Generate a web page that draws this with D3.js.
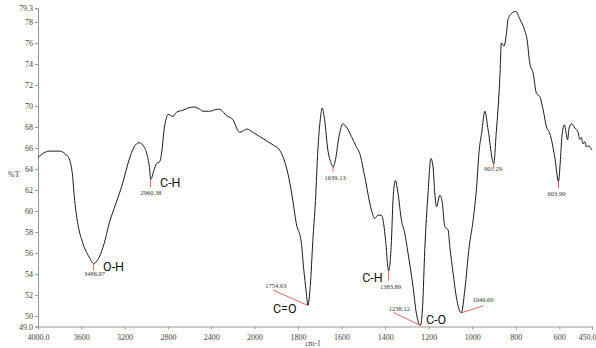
<!DOCTYPE html>
<html>
<head>
<meta charset="utf-8">
<script src="https://cdn.jsdelivr.net/npm/d3@7"></script>
<style>
  html, body { margin: 0; padding: 0; background: #fff; }
  svg { display: block; }
</style>
</head>
<body>
<svg id="chart" width="596" height="348"></svg>
<script>
// spectrum (cm-1, %T)
const wavenumber = [4000, 3896, 3804, 3726, 3696, 3680, 3665, 3634, 3588, 3527, 3487, 3435, 3389, 3343, 3281, 3219, 3158, 3112, 3066, 3020, 2989, 2968, 2960, 2928, 2906, 2876, 2851, 2836, 2820, 2810,
  2799, 2753, 2722, 2661, 2615, 2569, 2523, 2476, 2415, 2338, 2307, 2261, 2200, 2138, 2108, 2071, 2016, 1977, 1946, 1908, 1893, 1870, 1847, 1827, 1808, 1785, 1775, 1762, 1755,
  1744, 1732, 1720, 1709, 1698, 1689, 1678, 1663, 1647, 1639, 1628, 1612, 1594, 1578, 1555, 1532, 1517, 1494, 1463, 1448, 1433, 1417, 1407, 1398, 1384, 1371, 1364, 1353, 1341,
  1325, 1310, 1295, 1272, 1257, 1238, 1228, 1218, 1203, 1190, 1180, 1172, 1164, 1149, 1137, 1126, 1111, 1103, 1088, 1073, 1050, 1034, 1014, 996, 980, 968, 957, 942, 927, 901,
  890, 881, 873, 866, 854, 843, 836, 820, 800, 782, 759, 748, 736, 720, 705, 690, 674, 659, 644, 620, 604, 595, 588, 577, 562, 555, 544, 529, 514, 506, 499, 491, 483, 476, 468, 450];
const transmittance = [65.1, 65.7, 65.7, 65.2, 64.4, 63.3, 61.4, 58.9, 57.0, 55.6, 55.0, 55.6, 56.9, 58.8, 60.7, 62.6, 64.9, 66.1, 66.5, 66.1, 65.2, 63.9, 63.0, 63.9, 64.5, 64.7, 66.1, 67.7, 68.6, 69.0,
  69.2, 69.0, 69.4, 69.6, 69.8, 69.9, 69.8, 69.5, 69.5, 69.7, 69.6, 69.1, 68.7, 67.5, 67.6, 67.8, 67.5, 67.1, 66.7, 66.2, 66.0, 65.2, 63.6, 61.4, 58.8, 57.0, 54.7, 52.2, 51.0,
  52.8, 57.2, 61.0, 65.8, 68.7, 69.8, 68.7, 65.8, 64.5, 64.2, 64.9, 67.1, 68.3, 68.0, 67.1, 66.1, 65.5, 63.3, 60.1, 59.3, 59.6, 59.6, 58.8, 57.2, 54.3, 57.2, 61.0, 62.9, 61.7,
  59.1, 57.9, 56.0, 52.8, 50.3, 49.1, 50.9, 56.3, 61.7, 65.0, 64.2, 61.7, 60.4, 61.5, 60.7, 58.5, 58.2, 56.6, 54.1, 51.8, 50.3, 52.5, 56.6, 59.1, 62.3, 65.8, 67.4, 69.5, 67.7, 64.5,
  67.4, 69.9, 72.8, 76.0, 75.7, 76.9, 78.2, 78.8, 79.0, 78.3, 77.2, 76.3, 74.1, 73.1, 71.2, 70.9, 69.6, 68.0, 67.4, 65.0, 62.8, 64.9, 67.1, 68.2, 66.8, 67.9, 68.3, 67.9, 67.5, 66.8, 67.0, 66.4, 66.6, 66.1, 66.2, 65.8];

// labelled peaks
const peakWn = [3486.97, 2960.38, 1754.63, 1639.13, 1383.89, 1238.12, 1049.69, 901.29, 603.99];
const peakT = [55.0, 63.0, 51.0, 64.2, 54.3, 49.1, 50.3, 64.5, 62.8];
const peakText = ["3486.97", "2960.38", "1754.63", "1639.13", "1383.89", "1238.12", "1049.69", "901.29", "603.99"];
const groupText = ["O-H", "C-H", "C=O", "", "C-H", "C-O", "", "", ""];

// axis ticks
const xTicks = [4000, 3600, 3200, 2800, 2400, 2000, 1800, 1600, 1400, 1200, 1000, 800, 600, 450];
const xTickText = ["4000.0", "3600", "3200", "2800", "2400", "2000", "1800", "1600", "1400", "1200", "1000", "800", "600", "450.0"];
const yTicks = [49.0, 50, 52, 54, 56, 58, 60, 62, 64, 66, 68, 70, 72, 74, 76, 78, 79.3];
const yTickText = ["49.0", "50", "52", "54", "56", "58", "60", "62", "64", "66", "68", "70", "72", "74", "76", "78", "79.3"];

// where each peak's leader line and texts go, relative to the peak point
const peakLayout = [
  { lx: 0, ly: 7, tx: 1, ty: 12.5, gx: 9.5, gy: 7.5, ga: "start" },
  { lx: 0, ly: 8, tx: 0.5, ty: 15.5, gx: 9.5, gy: 7.5, ga: "start" },
  { lx: -35, ly: -15.5, tx: -32, ty: -17.5, gx: -35, gy: 8, ga: "start" },
  { lx: 0, ly: 5, tx: 2, ty: 13.5 },
  { lx: 0, ly: 10, tx: 2, ty: 18.5, gx: -6, gy: 11, ga: "end" },
  { lx: -27, ly: -13, tx: -21, ty: -14.5, gx: 5.5, gy: -1.5, ga: "start" },
  { lx: 22, ly: -7, tx: 21.6, ty: -10.5 },
  { lx: 0, ly: 5, tx: -0.7, ty: 7.7 },
  { lx: 0, ly: 6.7, tx: -2, ty: 14 }
];

const svg = d3.select("#chart");

// the instrument plots 4000-2000 at half the scale of 2000-450
const x = d3.scaleLinear().domain([4000, 2000, 450]).range([38, 254.5, 592]);
const y = d3.scaleLinear().domain([49.0, 79.3]).range([326.5, 8.3]);

const serif = "'Liberation Serif', 'DejaVu Serif', serif";

// y axis
const yAxis = svg.append("g")
  .attr("transform", "translate(38,0)")
  .call(d3.axisLeft(y).tickValues(yTicks).tickSize(3).tickPadding(2)
    .tickFormat((d, i) => yTickText[i]));
yAxis.select(".domain").attr("stroke", "#999");
yAxis.selectAll(".tick line").attr("stroke", "#999");
yAxis.selectAll(".tick text").attr("font-family", serif).attr("font-size", "8px").attr("fill", "#444");

// x axis
const xAxis = svg.append("g")
  .attr("transform", "translate(0,326.5)")
  .call(d3.axisBottom(x).tickValues(xTicks).tickSize(3).tickPadding(5)
    .tickFormat((d, i) => xTickText[i]));
xAxis.select(".domain").attr("stroke", "#999");
xAxis.selectAll(".tick line").attr("stroke", "#999");
xAxis.selectAll(".tick text").attr("font-family", serif).attr("font-size", "8px").attr("fill", "#444");
// last label sits against the right edge
xAxis.selectAll(".tick text").filter((d, i) => i === xTicks.length - 1)
  .attr("text-anchor", "end").attr("x", 596 - x(450));

svg.append("text").attr("x", 8).attr("y", 177)
  .attr("font-family", serif).attr("font-size", "8px").attr("fill", "#444")
  .text("%T");
svg.append("text").attr("x", 313).attr("y", 346).attr("text-anchor", "middle")
  .attr("font-family", serif).attr("font-size", "7.5px").attr("fill", "#444")
  .text("cm-1");

// spectrum
const spectrum = wavenumber.map((w, i) => ({ w: w, t: transmittance[i] }));
const line = d3.line()
  .x(d => x(d.w))
  .y(d => y(d.t))
  .curve(d3.curveMonotoneX);

svg.append("path")
  .datum(spectrum)
  .attr("d", line)
  .attr("fill", "none")
  .attr("stroke", "#1a1a1a")
  .attr("stroke-width", 1)
  .attr("stroke-linejoin", "round");

// peak annotations
peakWn.forEach((w, i) => {
  const px = x(w), py = y(peakT[i]);
  const l = peakLayout[i];
  svg.append("line")
    .attr("x1", px).attr("y1", py)
    .attr("x2", px + l.lx).attr("y2", py + l.ly)
    .attr("stroke", "#d9534f").attr("stroke-width", 0.9);
  svg.append("text")
    .attr("x", px + l.tx).attr("y", py + l.ty)
    .attr("text-anchor", "middle")
    .attr("font-family", serif).attr("font-size", "6.5px").attr("fill", "#333")
    .text(peakText[i]);
  if (groupText[i]) {
    svg.append("text")
      .attr("x", px + l.gx).attr("y", py + l.gy)
      .attr("text-anchor", l.ga)
      .attr("font-family", "Roboto, 'Open Sans', sans-serif").attr("font-size", "12.5px").attr("fill", "#111")
      .text(groupText[i]);
  }
});
</script>
</body>
</html>
